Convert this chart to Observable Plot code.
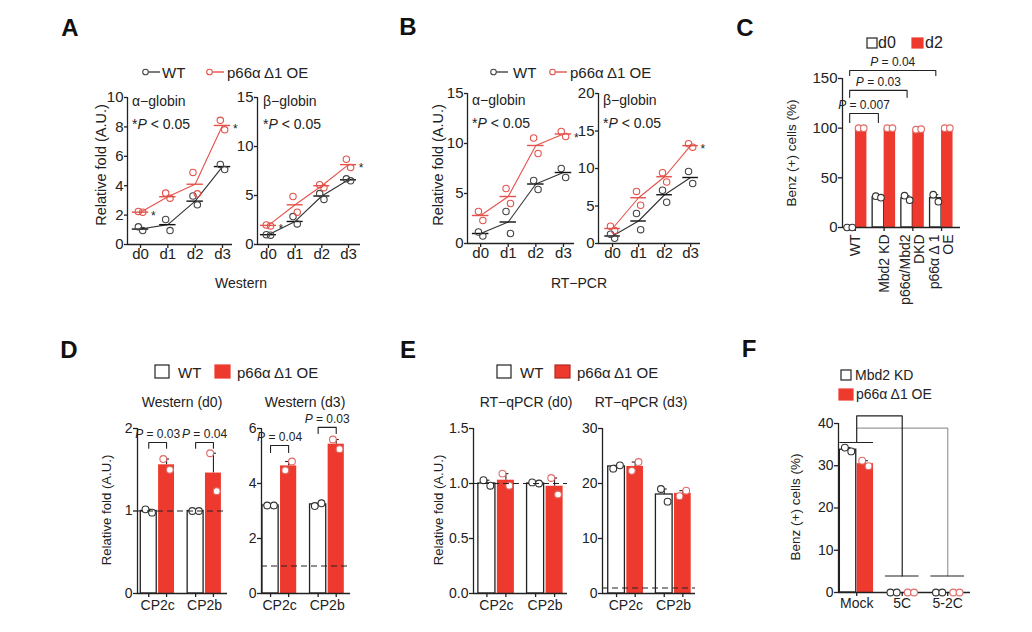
<!DOCTYPE html>
<html><head><meta charset="utf-8">
<script src="https://cdn.jsdelivr.net/npm/d3@7"></script>
<script src="https://cdn.jsdelivr.net/npm/@observablehq/plot@0.6"></script>
<style>
html,body{margin:0;padding:0;background:#fff;}
#fig{position:relative;width:1032px;height:632px;overflow:hidden;background:#fff;font-family:"Liberation Sans",Arial,Helvetica,sans-serif;color:#222;}
#fig svg{position:absolute;overflow:visible;max-width:none;}
</style></head>
<body><div id="fig"></div>
<script>
// ================= DATA =================
const dayLabels = ["d0", "d1", "d2", "d3"];
// A  Western – α-globin
const aAlphaWTMean = [1.05, 1.35, 2.95, 5.3];
const aAlphaWTPts  = [[1.2, 0.95], [1.7, 0.95], [3.3, 2.7], [5.45, 5.1]];
const aAlphaOEMean = [2.2, 3.25, 4.1, 8.1];
const aAlphaOEPts  = [[2.25, 2.2], [3.5, 3.15], [4.9, 3.45], [8.45, 7.8]];
// A  Western – β-globin
const aBetaWTMean = [1.0, 2.35, 4.95, 6.6];
const aBetaWTPts  = [[1.0, 0.95], [2.85, 2.1], [5.2, 4.6], [6.7, 6.5]];
const aBetaOEMean = [1.95, 4.05, 6.0, 8.15];
const aBetaOEPts  = [[2.0, 1.9], [4.9, 3.3], [6.1, 5.8], [8.7, 7.85]];
// B  RT-PCR – α-globin
const bAlphaWTMean = [1.0, 2.15, 5.95, 7.1];
const bAlphaWTPts  = [[1.15, 0.75], [3.2, 1.0], [6.3, 5.4], [7.5, 6.6]];
const bAlphaOEMean = [2.8, 4.7, 9.8, 10.95];
const bAlphaOEPts  = [[3.2, 2.3], [5.5, 4.0], [10.55, 9.0], [11.2, 10.7]];
// B  RT-PCR – β-globin
const bBetaWTMean = [1.0, 3.0, 6.5, 8.8];
const bBetaWTPts  = [[1.25, 0.7], [4.0, 1.85], [7.1, 5.5], [9.6, 8.0]];
const bBetaOEMean = [2.0, 6.1, 8.9, 13.05];
const bBetaOEPts  = [[2.3, 1.75], [6.95, 5.1], [9.45, 8.2], [13.3, 12.85]];
// C  Benz(+) cells
const cGroups  = ["WT", "Mbd2 KD", "p66α/Mbd2\nDKD", "p66α Δ 1\nOE"];
const cD0Mean  = [0, 30.5, 29.2, 29.5];
const cD0Pts   = [[0, 0], [31.5, 30], [32, 27.5], [33, 26]];
const cD2Mean  = [100, 100, 98.8, 100];
const cD2Pts   = [[100, 100], [100, 100], [98.5, 99], [100, 100]];
const cPvals   = ["P = 0.007", "P = 0.03", "P = 0.04"];
// D  Western (d0 / d3)
const genes = ["CP2c", "CP2b"];
const dD0WTMean = [1.0, 1.0];   const dD0WTPts = [[1.02, 0.98], [1.0, 1.0]];
const dD0OEMean = [1.56, 1.46]; const dD0OEPts = [[1.63, 1.5], [1.7, 1.24]];
const dD3WTMean = [3.2, 3.24];  const dD3WTPts = [[3.2, 3.2], [3.18, 3.28]];
const dD3OEMean = [4.64, 5.43]; const dD3OEPts = [[4.48, 4.8], [5.6, 5.25]];
const dD0Pvals = ["P = 0.03", "P = 0.04"];
const dD3Pvals = ["P = 0.04", "P = 0.03"];
// E  RT-qPCR (d0 / d3)
const eD0WTMean = [1.0, 1.0];    const eD0WTPts = [[1.03, 0.98], [1.01, 1.0]];
const eD0OEMean = [1.03, 0.975]; const eD0OEPts = [[1.09, 0.98], [1.05, 0.9]];
const eD3WTMean = [23.1, 18.0];  const eD3WTPts = [[22.7, 23.3], [19.0, 16.7]];
const eD3OEMean = [23.1, 18.2];  const eD3OEPts = [[22.3, 23.9], [17.7, 18.7]];
// F  Benz(+) cells
const fGroups = ["Mock", "5C", "5-2C"];
const fKDMean = [33.8, 0, 0];  const fKDPts = [[34.3, 33.4], [0, 0], [0, 0]];
const fOEMean = [30.5, 0, 0];  const fOEPts = [[31.2, 29.9], [0, 0], [0, 0]];

// ================= HELPERS =================
const fig = document.getElementById("fig");
const FONT = "'Liberation Sans', Arial, Helvetica, sans-serif";
const INK = "#222";
const RED = "#ee3a2e";
const RED_LINE = "#e4524b";
const RED_PT = "#e06a66";
const M = 70;
const intFmt = d3.format("~g");

function italicP(svg) {
  svg.querySelectorAll("text").forEach(t => {
    if (t.querySelector("tspan")) return;
    const s = t.textContent;
    const m = s.match(/^(\*?)P( .*)$/);
    if (!m) return;
    t.textContent = "";
    const ns = "http://www.w3.org/2000/svg";
    if (m[1]) { const a = document.createElementNS(ns, "tspan"); a.textContent = m[1]; t.appendChild(a); }
    const p = document.createElementNS(ns, "tspan"); p.setAttribute("font-style", "italic"); p.textContent = "P"; t.appendChild(p);
    const r = document.createElementNS(ns, "tspan"); r.textContent = m[2]; t.appendChild(r);
  });
}

function mount(frame, opts, fontSize) {
  const {x0, x1, y0, y1} = frame;
  const svg = Plot.plot({
    width: x1 - x0 + 2 * M, height: y1 - y0 + 2 * M,
    marginLeft: M, marginRight: M, marginTop: M, marginBottom: M,
    style: {fontFamily: FONT, fontSize: fontSize + "px", color: INK, background: "transparent", overflow: "visible"},
    ...opts
  });
  svg.style.position = "absolute";
  svg.style.left = (x0 - M) + "px";
  svg.style.top = (y0 - M) + "px";
  svg.style.maxWidth = "none";
  italicP(svg);
  fig.appendChild(svg);
  return svg;
}

function txt(html, x, y, o = {}) {
  const {size = 14, anchor = "start", weight = "normal", rotate = 0, color = INK} = o;
  const d = document.createElement("div");
  d.innerHTML = html;
  const tx = anchor === "start" ? "0" : anchor === "middle" ? "-50%" : "-100%";
  d.style.cssText = `position:absolute;left:${x}px;top:${y}px;font-size:${size}px;font-weight:${weight};color:${color};line-height:1;white-space:nowrap;transform:translate(${tx},-50%)${rotate ? ` rotate(${rotate}deg)` : ""};`;
  fig.appendChild(d);
}

function lineGlyph(x, y, color) {
  fig.insertAdjacentHTML("beforeend",
    `<svg width="22" height="10" style="left:${x}px;top:${y - 5}px"><circle cx="3.5" cy="5" r="2.8" fill="none" stroke="${color}" stroke-width="1.1"/><line x1="6.4" y1="5" x2="18" y2="5" stroke="${color}" stroke-width="1.4"/></svg>`);
}
function boxGlyph(x, y, w, h, fill, stroke) {
  fig.insertAdjacentHTML("beforeend",
    `<svg width="${w + 2}" height="${h + 2}" style="left:${x - 1}px;top:${y - 1}px"><rect x="1" y="1" width="${w}" height="${h}" fill="${fill}" stroke="${stroke}" stroke-width="1.2"/></svg>`);
}

const mkRows = (means, pts) => means.map((v, i) => ({i, v, hi: Math.max(...pts[i])}));
const mkPts = pts => pts.flatMap((a, i) => a.map((v, j) => ({i, j, v})));

// ---------- line (time-course) panels ----------
function linePanel({frame, xDomain, yDomain, yTicks, wtMean, wtPts, oeMean, oePts, stars}) {
  const wtM = mkRows(wtMean, wtPts), oeM = mkRows(oeMean, oePts);
  const wtP = mkPts(wtPts), oeP = mkPts(oePts);
  const off = j => (j === 0 ? -0.08 : 0.08);
  mount(frame, {
    x: {type: "linear", domain: xDomain},
    y: {type: "linear", domain: yDomain},
    marks: [
      Plot.ruleX([xDomain[0]], {stroke: INK, strokeWidth: 1.3}),
      Plot.ruleY([0], {stroke: INK, strokeWidth: 1.3}),
      Plot.axisY({ticks: yTicks, tickFormat: intFmt, tickSize: 3, tickPadding: 1, label: null, fontSize: 15, strokeWidth: 1.3}),
      Plot.axisX({ticks: [0, 1, 2, 3], tickFormat: d => dayLabels[d], tickSize: 4, tickPadding: 0, label: null, fontSize: 15, strokeWidth: 1.3}),
      Plot.line(wtM, {x: "i", y: "v", stroke: "#333", strokeWidth: 1.1}),
      Plot.line(oeM, {x: "i", y: "v", stroke: RED_LINE, strokeWidth: 1.1}),
      Plot.ruleY(wtM, {y: "v", x1: d => d.i - 0.3, x2: d => d.i + 0.3, stroke: "#111", strokeWidth: 1.4}),
      Plot.ruleY(oeM, {y: "v", x1: d => d.i - 0.3, x2: d => d.i + 0.3, stroke: RED_LINE, strokeWidth: 1.4}),
      Plot.dot(wtP, {x: d => d.i + off(d.j), y: "v", r: 3.2, stroke: "#444", fill: "none", strokeWidth: 1.1}),
      Plot.dot(oeP, {x: d => d.i + off(d.j), y: "v", r: 3.2, stroke: RED_LINE, fill: "none", strokeWidth: 1.1}),
      Plot.text(oeM.filter(d => stars.includes(d.i)), {x: d => d.i + 0.38, y: "v", text: () => "*", textAnchor: "start", dy: 4, fontSize: 12})
    ]
  }, 15);
}

// ---------- bar panels ----------
function barPanel({frame, xDomain, yDomain, yTicks, yFmt = intFmt, A, B, w, g, jit, xAxis, after = [], fontSize = 14, r = 3.4}) {
  const unit = (frame.x1 - frame.x0) / (xDomain[1] - xDomain[0]);
  const cap = 3 / unit;
  const cA = i => i - g - w / 2, cB = i => i + g + w / 2;
  const rA = mkRows(A.mean, A.pts), rB = mkRows(B.mean, B.pts);
  const pA = mkPts(A.pts), pB = mkPts(B.pts);
  const jx = j => (j === 0 ? -jit : jit);
  mount(frame, {
    x: {type: "linear", domain: xDomain},
    y: {type: "linear", domain: yDomain},
    marks: [
      Plot.ruleX(rA, {x: d => cA(d.i), y1: "v", y2: "hi", stroke: INK, strokeWidth: 1.1}),
      Plot.ruleY(rA.filter(d => d.v > 0), {y: "hi", x1: d => cA(d.i) - cap, x2: d => cA(d.i) + cap, stroke: INK, strokeWidth: 1.1}),
      Plot.ruleX(rB, {x: d => cB(d.i), y1: "v", y2: "hi", stroke: INK, strokeWidth: 1.1}),
      Plot.ruleY(rB.filter(d => d.v > 0), {y: "hi", x1: d => cB(d.i) - cap, x2: d => cB(d.i) + cap, stroke: INK, strokeWidth: 1.1}),
      Plot.rect(rA, {x1: d => d.i - g - w, x2: d => d.i - g, y1: () => 0, y2: "v", fill: "white", stroke: INK, strokeWidth: 1.3}),
      Plot.rect(rB, {x1: d => d.i + g, x2: d => d.i + g + w, y1: () => 0, y2: "v", fill: RED}),
      Plot.ruleX([xDomain[0]], {stroke: INK, strokeWidth: 1.3}),
      Plot.ruleY([0], {stroke: INK, strokeWidth: 1.3}),
      Plot.axisY({ticks: yTicks, tickFormat: yFmt, tickSize: 4, tickPadding: 1, label: null, fontSize, strokeWidth: 1.3}),
      ...xAxis(cA, cB, fontSize),
      Plot.dot(pA, {x: d => cA(d.i) + jx(d.j), y: "v", r, fill: "white", stroke: "#333", strokeWidth: 1.1}),
      Plot.dot(pB, {x: d => cB(d.i) + jx(d.j), y: "v", r, fill: "white", stroke: RED_PT, strokeWidth: 1.1}),
      ...after
    ]
  }, fontSize);
}

function bracket(xa, xb, yTop, yBot, key) {
  return [{x: xa, y: yBot, k: key}, {x: xa, y: yTop, k: key}, {x: xb, y: yTop, k: key}, {x: xb, y: yBot, k: key}];
}

const geneAxis = labels => (cA, cB, fs) => [
  Plot.axisX({ticks: [cA(0), cB(0), cA(1), cB(1)], tickFormat: () => "", tickSize: 4, label: null, strokeWidth: 1.3}),
  Plot.axisX({ticks: [0, 1], tickFormat: i => labels[i], tickSize: 0, tickPadding: 7, label: null, fontSize: fs})
];

// ================= PANEL A =================
linePanel({frame: {x0: 127, x1: 232, y0: 97, y1: 244}, xDomain: [-0.476, 3.366], yDomain: [0, 10], yTicks: [0, 2, 4, 6, 8, 10],
  wtMean: aAlphaWTMean, wtPts: aAlphaWTPts, oeMean: aAlphaOEMean, oePts: aAlphaOEPts, stars: [0, 3]});
linePanel({frame: {x0: 257, x1: 360, y0: 97, y1: 244}, xDomain: [-0.41, 3.45], yDomain: [0, 15], yTicks: [0, 5, 10, 15],
  wtMean: aBetaWTMean, wtPts: aBetaWTPts, oeMean: aBetaOEMean, oePts: aBetaOEPts, stars: [0, 3]});

// ================= PANEL B =================
linePanel({frame: {x0: 467, x1: 574, y0: 93, y1: 243}, xDomain: [-0.476, 3.4], yDomain: [0, 15], yTicks: [0, 5, 10, 15],
  wtMean: bAlphaWTMean, wtPts: bAlphaWTPts, oeMean: bAlphaOEMean, oePts: bAlphaOEPts, stars: [3]});
linePanel({frame: {x0: 598, x1: 700, y0: 93, y1: 243}, xDomain: [-0.54, 3.38], yDomain: [0, 20], yTicks: [0, 5, 10, 15, 20],
  wtMean: bBetaWTMean, wtPts: bBetaWTPts, oeMean: bBetaOEMean, oePts: bBetaOEPts, stars: [3]});

// ================= PANEL C =================
{
  const br = [
    ...bracket(-0.2, 0.8, 114.8, 105.7, 0),
    ...bracket(-0.2, 1.8, 138, 131, 1),
    ...bracket(-0.2, 2.8, 158, 153, 2)
  ];
  const pv = [{x: 0.3, y: 114.8, t: cPvals[0]}, {x: 0.8, y: 138, t: cPvals[1]}, {x: 1.3, y: 158, t: cPvals[2]}];
  barPanel({frame: {x0: 842, x1: 960, y0: 78, y1: 227}, xDomain: [-0.45, 3.66], yDomain: [0, 150], yTicks: [0, 50, 100, 150],
    A: {mean: cD0Mean, pts: cD0Pts}, B: {mean: cD2Mean, pts: cD2Pts}, w: 0.4, g: 0, jit: 0.09, fontSize: 15, r: 3.3,
    xAxis: () => [Plot.axisX({ticks: [0, 1, 2, 3], tickFormat: i => cGroups[i], tickRotate: -90, tickSize: 4, tickPadding: 3, fontSize: 14, label: null, strokeWidth: 1.3})],
    after: [
      Plot.line(br, {x: "x", y: "y", z: "k", stroke: INK, strokeWidth: 1.1}),
      Plot.text(pv, {x: "x", y: "y", text: "t", dy: -8, fontSize: 12})
    ]});
}

// ================= PANEL D =================
{
  const br0 = [...bracket(-0.19, 0.19, 1.83, 1.76, 0), ...bracket(0.81, 1.19, 1.83, 1.76, 1)];
  const pv0 = [{x: 0, y: 1.83, t: dD0Pvals[0]}, {x: 1, y: 1.83, t: dD0Pvals[1]}];
  barPanel({frame: {x0: 137, x1: 227, y0: 428, y1: 593}, xDomain: [-0.43, 1.49], yDomain: [0, 2], yTicks: [0, 1, 2],
    A: {mean: dD0WTMean, pts: dD0WTPts}, B: {mean: dD0OEMean, pts: dD0OEPts}, w: 0.34, g: 0.02, jit: 0.07,
    xAxis: geneAxis(genes),
    after: [
      Plot.ruleY([1], {stroke: INK, strokeWidth: 1.1, strokeDasharray: "6,4"}),
      Plot.line(br0, {x: "x", y: "y", z: "k", stroke: INK, strokeWidth: 1.1}),
      Plot.text(pv0, {x: "x", y: "y", text: "t", dy: -8, fontSize: 12})
    ]});
  const br3 = [...bracket(-0.19, 0.19, 5.38, 5.13, 0), ...bracket(0.81, 1.19, 6.04, 5.82, 1)];
  const pv3 = [{x: 0, y: 5.38, t: dD3Pvals[0]}, {x: 1, y: 6.04, t: dD3Pvals[1]}];
  barPanel({frame: {x0: 261, x1: 350, y0: 428, y1: 593}, xDomain: [-0.38, 1.49], yDomain: [0, 6], yTicks: [0, 2, 4, 6],
    A: {mean: dD3WTMean, pts: dD3WTPts}, B: {mean: dD3OEMean, pts: dD3OEPts}, w: 0.34, g: 0.02, jit: 0.07,
    xAxis: geneAxis(genes),
    after: [
      Plot.ruleY([1], {stroke: INK, strokeWidth: 1.1, strokeDasharray: "6,4"}),
      Plot.line(br3, {x: "x", y: "y", z: "k", stroke: INK, strokeWidth: 1.1}),
      Plot.text(pv3, {x: "x", y: "y", text: "t", dy: -8, fontSize: 12})
    ]});
}

// ================= PANEL E =================
barPanel({frame: {x0: 473, x1: 567, y0: 428, y1: 593}, xDomain: [-0.47, 1.46], yDomain: [0, 1.5], yTicks: [0, 0.5, 1, 1.5], yFmt: d3.format(".1f"),
  A: {mean: eD0WTMean, pts: eD0WTPts}, B: {mean: eD0OEMean, pts: eD0OEPts}, w: 0.35, g: 0.02, jit: 0.07,
  xAxis: geneAxis(genes),
  after: [Plot.ruleY([1], {stroke: INK, strokeWidth: 1.1, strokeDasharray: "6,4"})]});
barPanel({frame: {x0: 602, x1: 695, y0: 428, y1: 593}, xDomain: [-0.49, 1.46], yDomain: [0, 30], yTicks: [0, 10, 20, 30],
  A: {mean: eD3WTMean, pts: eD3WTPts}, B: {mean: eD3OEMean, pts: eD3OEPts}, w: 0.35, g: 0.02, jit: 0.07,
  xAxis: geneAxis(genes),
  after: [Plot.ruleY([1], {stroke: INK, strokeWidth: 1.1, strokeDasharray: "6,4"})]});

// ================= PANEL F =================
{
  const p1 = [{x: 0, y: 35.5}, {x: 0, y: 41.8}, {x: 1, y: 41.8}, {x: 1, y: 3.9}];
  const p2 = [{x: 0, y: 38.9}, {x: 2, y: 38.9}, {x: 2, y: 3.9}];
  const shorts = [{i: 0, y: 35.5}, {i: 1, y: 3.9}, {i: 2, y: 3.9}];
  barPanel({frame: {x0: 838, x1: 970, y0: 423, y1: 592}, xDomain: [-0.4, 2.5], yDomain: [0, 40], yTicks: [0, 10, 20, 30, 40],
    A: {mean: fKDMean, pts: fKDPts}, B: {mean: fOEMean, pts: fOEPts}, w: 0.36, g: 0.01, jit: 0.07,
    xAxis: (cA, cB, fs) => [Plot.axisX({ticks: [0, 1, 2], tickFormat: i => fGroups[i], tickSize: 4, tickPadding: 2, label: null, fontSize: fs, strokeWidth: 1.3})],
    after: [
      Plot.line(p2, {x: "x", y: "y", stroke: "#9a9a9a", strokeWidth: 1.2}),
      Plot.line(p1, {x: "x", y: "y", stroke: INK, strokeWidth: 1.2}),
      Plot.ruleY(shorts, {y: "y", x1: d => d.i - 0.37, x2: d => d.i + 0.37, stroke: INK, strokeWidth: 1.2})
    ]});
}

// ================= TEXT / LEGENDS =================
[["A", 70, 28], ["B", 408, 27], ["C", 745, 28], ["D", 69, 350], ["E", 408, 350], ["F", 749, 349]]
  .forEach(([s, x, y]) => txt(s, x, y, {size: 24, weight: "bold", anchor: "middle", color: "#111"}));

lineGlyph(142, 72, "#444"); txt("WT", 162, 72, {size: 15});
lineGlyph(206, 72, RED_LINE); txt("p66α Δ1 OE", 227, 72, {size: 15});
lineGlyph(490, 72, "#444"); txt("WT", 513, 72, {size: 15});
lineGlyph(549, 72, RED_LINE); txt("p66α Δ1 OE", 570, 72, {size: 15});

txt("α−globin", 132, 101, {size: 14}); txt("*<i>P</i> &lt; 0.05", 132, 124, {size: 14});
txt("β−globin", 263, 101, {size: 14}); txt("*<i>P</i> &lt; 0.05", 263, 124, {size: 14});
txt("α−globin", 472, 100, {size: 14}); txt("*<i>P</i> &lt; 0.05", 472, 123, {size: 14});
txt("β−globin", 603, 100, {size: 14}); txt("*<i>P</i> &lt; 0.05", 603, 123, {size: 14});
txt("Western", 241, 283, {size: 14, anchor: "middle"});
txt("RT−PCR", 579, 283, {size: 14, anchor: "middle"});

txt("Relative fold (A.U.)", 101, 165, {size: 14.5, anchor: "middle", rotate: -90});
txt("Relative fold (A.U.)", 438, 165, {size: 14.5, anchor: "middle", rotate: -90});
txt("Benz (+) cells (%)", 792, 153, {size: 13.5, anchor: "middle", rotate: -90});
txt("Relative fold (A.U.)", 107, 510, {size: 13.2, anchor: "middle", rotate: -90});
txt("Relative fold (A.U.)", 439, 510, {size: 13.2, anchor: "middle", rotate: -90});
txt("Benz (+) cells (%)", 796, 507, {size: 13.5, anchor: "middle", rotate: -90});

boxGlyph(867, 38, 10, 10, "white", INK); txt("d0", 878, 43, {size: 16});
boxGlyph(912, 38, 11, 10, RED, RED); txt("d2", 925, 43, {size: 16});

boxGlyph(155, 365, 14, 13, "white", INK); txt("WT", 178, 372, {size: 15});
boxGlyph(215, 365, 15, 13, RED, RED); txt("p66α Δ1 OE", 237, 372, {size: 15});
boxGlyph(497, 365, 14, 13, "white", INK); txt("WT", 520, 372, {size: 15});
boxGlyph(555, 365, 15, 13, RED, "#b02a20"); txt("p66α Δ1 OE", 577, 372, {size: 15});
txt("Western (d0)", 182, 402, {size: 14, anchor: "middle"});
txt("Western (d3)", 305, 402, {size: 14, anchor: "middle"});
txt("RT−qPCR (d0)", 526, 402, {size: 14, anchor: "middle"});
txt("RT−qPCR (d3)", 641, 402, {size: 14, anchor: "middle"});

boxGlyph(841, 370, 10, 10, "white", INK); txt("Mbd2 KD", 855, 375, {size: 14});
boxGlyph(839, 389, 14, 11, RED, RED); txt("p66α Δ1 OE", 856, 394, {size: 14});
</script>
</body></html>
